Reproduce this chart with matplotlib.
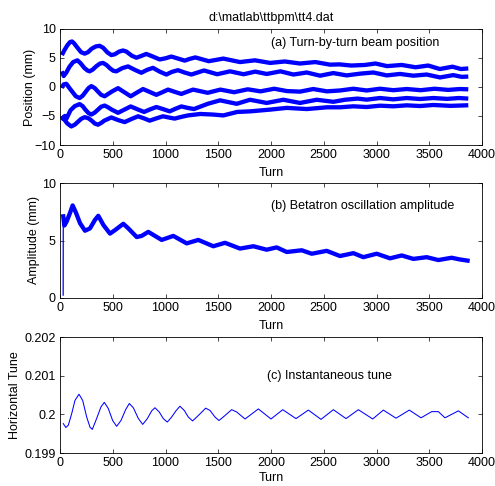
import matplotlib
matplotlib.use('Agg')
import matplotlib.pyplot as plt

plt.rcParams['font.family'] = ['Liberation Sans', 'DejaVu Sans']
plt.rcParams['font.size'] = 9

TITLE = r"d:\matlab\ttbpm\tt4.dat"
x_ticks = [0, 500, 1000, 1500, 2000, 2500, 3000, 3500, 4000]

# ---- panel (a): turn-by-turn beam position, five BPM traces ----
pos1_turn = [18, 40, 70, 95, 114, 135, 160, 200, 234, 265, 300, 340, 376, 410, 450, 487, 520, 560,
             597, 630, 680, 724, 770, 818, 860, 945, 1000, 1055, 1110, 1182, 1230, 1283, 1410,
             1548, 1706, 1848, 1991, 2130, 2275, 2420, 2560, 2650, 2760, 2890, 2990, 3100,
             3240, 3370, 3490, 3600, 3720, 3800, 3870]
pos1_mm = [5.5, 6.3, 7.2, 7.75, 7.85, 7.5, 6.9, 6.0, 5.75, 6.0, 6.6, 7.0, 7.1, 6.75, 5.95, 5.5, 5.65,
           6.1, 6.3, 6.1, 5.4, 5.05, 5.35, 5.7, 5.4, 4.75, 4.95, 5.25, 4.95, 4.55, 4.85, 5.1, 4.45,
           4.9, 4.3, 4.6, 4.15, 4.4, 4.05, 4.3, 3.85, 3.9, 3.7, 3.8, 4.05, 3.6,
           3.8, 3.4, 3.7, 3.1, 3.5, 3.1, 3.2]

pos2_turn = [16, 35, 60, 90, 125, 165, 195, 230, 260, 281, 310, 345, 380, 408, 440, 475, 505, 534,
             590, 645, 710, 771, 825, 881, 945, 1008, 1060, 1118, 1180, 1245, 1365, 1490, 1611,
             1740, 1850, 1960, 2090, 2212, 2339, 2465, 2591, 2717, 2844, 2970, 3097, 3223,
             3349, 3476, 3602, 3728, 3807, 3870]
pos2_mm = [2.7, 1.9, 2.5, 3.5, 4.3, 4.6, 4.1, 3.3, 2.85, 2.7, 3.0, 3.6, 4.05, 4.15, 3.8, 3.2, 2.8,
           2.7, 3.25, 3.55, 2.95, 2.45, 2.95, 3.3, 2.65, 2.15, 2.6, 2.9, 2.5, 2.15, 2.85, 2.2, 2.7,
           2.2, 2.65, 2.25, 2.7, 2.15, 2.5, 1.95, 2.4, 2.0, 2.3, 2.5, 2.0, 2.25,
           1.95, 2.15, 1.65, 2.05, 1.75, 1.8]

pos3_turn = [16, 35, 60, 90, 120, 150, 186, 215, 240, 270, 297, 330, 360, 390, 423, 490, 550, 610,
             670, 730, 787, 850, 913, 970, 1024, 1090, 1150, 1200, 1261, 1400, 1520, 1650, 1780,
             1900, 2030, 2150, 2275, 2400, 2530, 2654, 2780, 2907, 3033, 3160, 3286, 3420,
             3550, 3680, 3790, 3870]
pos3_mm = [-0.15, 0.45, 0.55, -0.2, -0.9, -1.6, -1.9, -1.5, -0.9, -0.2, 0.15, -0.2, -0.8, -1.35,
           -1.6, -0.8, -0.2, -0.9, -1.6, -0.95, -0.35, -0.85, -1.35, -0.9, -0.45, -0.85, -1.2,
           -0.85, -0.45, -1.0, -0.45, -0.9, -0.4, -0.75, -0.3, -0.7, -0.8, -0.35, -0.75, -0.6,
           -0.3, -0.6, -0.3, -0.55, -0.35, -0.55, -0.3, -0.5, -0.35, -0.4]

pos4_turn = [16, 30, 45, 60, 100, 140, 186, 215, 240, 270, 297, 330, 360, 390, 423, 460, 490, 550,
             610, 670, 735, 797, 855, 913, 975, 1040, 1095, 1150, 1210, 1270, 1400, 1517, 1675,
             1801, 1959, 2117, 2275, 2433, 2591, 2700, 2820, 2907, 3033, 3160, 3286, 3413,
             3539, 3670, 3780, 3870]
pos4_mm = [-5.0, -5.5, -5.0, -5.5, -4.0, -3.3, -2.95, -3.3, -3.9, -4.5, -4.75, -4.4, -3.9, -3.4,
           -3.2, -3.55, -3.9, -4.45, -3.9, -3.35, -3.85, -4.3, -3.85, -3.45, -3.8, -4.2, -3.75,
           -3.35, -3.6, -3.8, -2.9, -2.3, -2.9, -2.2, -2.75, -2.2, -2.75, -2.2, -2.55, -2.2,
           -2.0, -2.18, -1.9, -2.13, -1.9, -2.07, -1.9, -2.05, -1.9, -2.0]

pos5_turn = [16, 40, 70, 107, 140, 170, 200, 234, 270, 300, 330, 360, 390, 420, 487, 550, 613, 680,
             740, 795, 850, 915, 976, 1030, 1087, 1150, 1213, 1330, 1450, 1548, 1680, 1801,
             1991, 2149, 2340, 2530, 2654, 2780, 2907, 3033, 3160, 3286, 3413, 3539, 3700, 3870]
pos5_mm = [-5.2, -5.6, -6.3, -6.8, -6.5, -6.0, -5.5, -5.2, -5.4, -5.8, -6.3, -6.5, -6.2, -5.8,
           -5.25, -5.7, -6.05, -5.5, -5.05, -5.4, -5.8, -5.4, -5.05, -5.25, -5.45, -5.15, -4.9,
           -4.65, -4.75, -4.9, -4.3, -4.2, -3.9, -3.6, -3.8, -3.5, -3.5, -3.33, -3.45, -3.22,
           -3.33, -3.16, -3.28, -3.1, -3.25, -3.15]

# ---- panel (b): betatron oscillation amplitude ----
amp_turn = [30, 31, 41, 63, 95, 120, 152, 190, 237, 284, 332, 363, 411, 474, 521, 600, 648, 727,
            774, 837, 900, 964, 1074, 1201, 1311, 1453, 1564, 1706, 1833, 1959, 2054, 2149,
            2291, 2386, 2528, 2654, 2781, 2875, 3002, 3128, 3239, 3349, 3476, 3586, 3712,
            3791, 3863]
amp_mm = [0.25, 7.1, 6.3, 6.65, 7.4, 8.05, 7.4, 6.5, 5.85, 6.05, 6.8, 7.15, 6.35, 5.6, 5.9, 6.45,
          6.05, 5.3, 5.4, 5.75, 5.4, 5.05, 5.4, 4.75, 5.05, 4.5, 4.8, 4.3, 4.5, 4.2, 4.4, 4.0,
          4.15, 3.85, 4.1, 3.65, 3.9, 3.55, 3.85, 3.45, 3.7, 3.4, 3.55, 3.3, 3.5, 3.35, 3.25]

# ---- panel (c): instantaneous tune ----
tune_turn = [31, 56, 79, 111, 142, 180, 215, 253, 284, 306, 347, 388, 420, 458, 499, 537, 578,
             622, 657, 695, 743, 784, 828, 869, 900, 941, 979, 1017, 1058, 1099, 1137, 1178,
             1216, 1257, 1311, 1381, 1422, 1469, 1507, 1564, 1627, 1675, 1754, 1880, 2000,
             2111, 2237, 2354, 2474, 2591, 2711, 2828, 2964, 3065, 3185, 3311, 3422, 3523,
             3586, 3649, 3776, 3870]
tune_val = [0.19976, 0.19966, 0.19972, 0.20002, 0.20036, 0.20052, 0.20036, 0.19993, 0.19967,
            0.19961, 0.19989, 0.20019, 0.20031, 0.20015, 0.19984, 0.19969, 0.19984, 0.20012,
            0.20028, 0.20017, 0.19989, 0.19974, 0.19989, 0.20009, 0.20017, 0.20006, 0.19989,
            0.19980, 0.19993, 0.20009, 0.20021, 0.20010, 0.19993, 0.19983, 0.19997, 0.20016,
            0.20010, 0.19993, 0.19984, 0.19997, 0.20012, 0.20006, 0.19988, 0.20014, 0.19988,
            0.20012, 0.19989, 0.20011, 0.19987, 0.20012, 0.19989, 0.20012, 0.19988, 0.20011,
            0.19990, 0.20011, 0.19991, 0.20007, 0.20007, 0.19991, 0.20009, 0.19991]

BLUE = '#0000ff'

fig = plt.figure(figsize=(4.95, 4.86), dpi=100)
fig.patch.set_facecolor('white')

left, width = 60 / 495, 422 / 495
ax_a = fig.add_axes([left, 1 - 145 / 486, width, 116 / 486])
ax_b = fig.add_axes([left, 1 - 298 / 486, width, 115 / 486])
ax_c = fig.add_axes([left, 1 - 453 / 486, width, 116 / 486])


def style(ax):
    ax.set_xlim(0, 4000)
    ax.set_xticks(x_ticks)
    ax.tick_params(direction='in', top=True, right=True, length=3, width=0.5,
                   labelsize=9, colors='black', pad=3)
    for s in ax.spines.values():
        s.set_linewidth(0.6)
        s.set_color('black')
    ax.set_xlabel('Turn', fontsize=9, labelpad=4)


for t, v in [(pos1_turn, pos1_mm), (pos2_turn, pos2_mm), (pos3_turn, pos3_mm),
             (pos4_turn, pos4_mm), (pos5_turn, pos5_mm)]:
    ax_a.plot(t, v, color=BLUE, lw=3.1, solid_joinstyle='round', solid_capstyle='butt')
style(ax_a)
ax_a.set_ylim(-10, 10)
ax_a.set_yticks([-10, -5, 0, 5, 10])
ax_a.set_ylabel('Position (mm)', fontsize=9, labelpad=-1)
ax_a.text(2000, 7.5, '(a) Turn-by-turn beam position', fontsize=9, va='center', ha='left')
ax_a.set_title(TITLE, fontsize=9, pad=6)

ax_b.plot(amp_turn[:2], amp_mm[:2], color=BLUE, lw=0.9)
ax_b.plot(amp_turn[1:], amp_mm[1:], color=BLUE, lw=3.1, solid_joinstyle='round')
style(ax_b)
ax_b.set_ylim(0, 10)
ax_b.set_yticks([0, 5, 10])
ax_b.set_ylabel('Amplitude (mm)', fontsize=9, labelpad=1.5)
ax_b.text(2000, 8, '(b) Betatron oscillation amplitude', fontsize=9, va='center', ha='left')

ax_c.plot(tune_turn, tune_val, color=BLUE, lw=0.75)
style(ax_c)
ax_c.xaxis.labelpad = 2
ax_c.set_ylim(0.199, 0.202)
ax_c.set_yticks([0.199, 0.200, 0.201, 0.202])
ax_c.set_yticklabels(['0.199', '0.2', '0.201', '0.202'])
ax_c.set_ylabel('Horizontal Tune', fontsize=9, labelpad=2.3)
ax_c.text(1960, 0.201, '(c) Instantaneous tune', fontsize=9, va='center', ha='left')

fig.savefig('out.png', dpi=100, facecolor='white')
